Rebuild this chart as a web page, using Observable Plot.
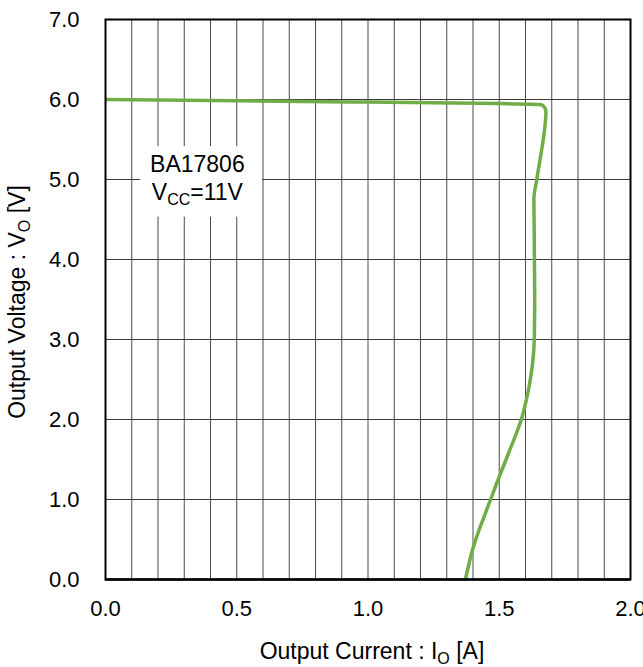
<!DOCTYPE html>
<html>
<head>
<meta charset="utf-8">
<script src="https://cdn.jsdelivr.net/npm/d3@7"></script>
<script src="https://cdn.jsdelivr.net/npm/@observablehq/plot@0.6"></script>
<style>
  html, body { margin: 0; padding: 0; background: #fff; }
  #chart { width: 643px; height: 667px; overflow: hidden; }
  svg { font-family: "Liberation Sans", Arial, sans-serif; }
</style>
</head>
<body>
<div id="chart"></div>
<script>
// Output current (A) and output voltage (V)
const current = [0, 0.5, 1.0, 1.5, 1.655, 1.668, 1.678, 1.677, 1.643, 1.632, 1.633, 1.634, 1.635, 1.634,
  1.630, 1.623, 1.613, 1.600, 1.584, 1.562, 1.538, 1.514, 1.490, 1.467, 1.444, 1.421, 1.401, 1.392, 1.385, 1.378, 1.371];
const voltage = [6.00, 5.985, 5.968, 5.95, 5.938, 5.92, 5.85, 5.78, 5.00, 4.76, 4.40, 4.00, 3.50, 3.10,
  2.80, 2.60, 2.40, 2.20, 2.00, 1.80, 1.60, 1.40, 1.20, 1.00, 0.80, 0.60, 0.40, 0.30, 0.20, 0.10, 0.00];

const xTicks = [0, 0.5, 1.0, 1.5, 2.0];
const yTicks = [0, 1, 2, 3, 4, 5, 6, 7];
const xGrid = d3.range(1, 20).map(i => i / 10);
const yGrid = [1, 2, 3, 4, 5, 6];

const noteLines = ["BA17806", "VCC=11V"];
const noteBox = [{x1: 0.133, x2: 0.598, y1: 4.53, y2: 5.41}];
const noteAnchor = {x: 0.35, y: [5.18, 4.83]};

const xTitle = ["Output Current : I", "O", " [A]"];
const yTitle = ["Output Voltage : V", "O", " [V]"];

const data = current.map((c, i) => ({I: c, V: voltage[i]}));

const plot = Plot.plot({
  width: 643,
  height: 667,
  marginLeft: 105,
  marginRight: 13,
  marginTop: 19,
  marginBottom: 88,
  style: {fontSize: "22px", fontFamily: "Liberation Sans, Arial, sans-serif", color: "#000", background: "#fff"},
  x: {domain: [0, 2], label: null},
  y: {domain: [0, 7], label: null},
  marks: [
    Plot.ruleX(xGrid, {stroke: "#4a4a4a", strokeWidth: 1}),
    Plot.ruleY(yGrid, {stroke: "#3a3a3a", strokeWidth: 1}),
    Plot.rect(noteBox, {x1: "x1", x2: "x2", y1: "y1", y2: "y2", fill: "#fff"}),
    Plot.line(data, {x: "I", y: "V", stroke: "#70AD47", strokeWidth: 3.5, strokeLinejoin: "round", strokeLinecap: "butt", curve: "monotone-y"}),
    Plot.frame({stroke: "#000", strokeWidth: 2}),
    Plot.ruleY([0], {stroke: "#000", strokeWidth: 2.5}),
    Plot.axisX(xTicks, {tickSize: 0, tickPadding: 21, tickFormat: d3.format(".1f"), fontSize: 22}),
    Plot.axisY(yTicks, {tickSize: 0, tickPadding: 26, tickFormat: d3.format(".1f"), fontSize: 22}),
    Plot.text(noteLines, {x: () => noteAnchor.x, y: (d, i) => noteAnchor.y[i], text: d => d, fontSize: 23, fill: "#000", className: "note"})
  ]
});

document.getElementById("chart").appendChild(plot);

const svg = d3.select(plot);

// Subscript in the annotation second line
svg.selectAll(".note text").each(function() {
  const t = d3.select(this);
  if (t.text() === "VCC=11V") {
    t.text("");
    t.append("tspan").text("V");
    t.append("tspan").attr("font-size", 16).attr("dy", 5).text("CC");
    t.append("tspan").attr("dy", -5).text("=11V");
  }
});

function addTitle(parts, x, y, rotate) {
  const t = svg.append("text")
    .attr("text-anchor", "middle")
    .attr("font-size", 23)
    .attr("fill", "#000")
    .attr("transform", `translate(${x},${y})` + (rotate ? " rotate(-90)" : ""));
  t.append("tspan").text(parts[0]);
  t.append("tspan").attr("font-size", 16).attr("dy", 5).text(parts[1]);
  t.append("tspan").attr("dy", -5).text(parts[2]);
}
addTitle(xTitle, 372, 659, false);
addTitle(yTitle, 25, 302, true);
</script>
</body>
</html>
